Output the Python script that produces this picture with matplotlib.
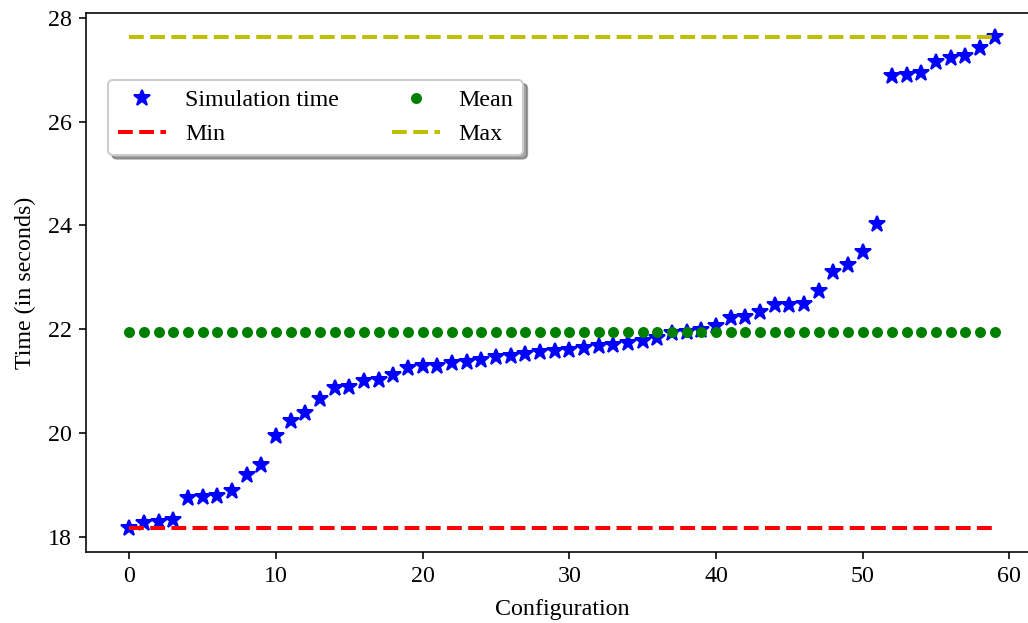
import numpy as np
import matplotlib
matplotlib.use("Agg")
import matplotlib.pyplot as plt

# Simulation time per configuration (sorted)
config = list(range(60))
sim_time = [
    18.17, 18.27, 18.29, 18.33, 18.75, 18.77, 18.79, 18.88, 19.19, 19.38,
    19.94, 20.23, 20.38, 20.65, 20.87, 20.88, 21.00, 21.02, 21.12, 21.25,
    21.29, 21.29, 21.35, 21.37, 21.40, 21.46, 21.48, 21.52, 21.56, 21.58,
    21.60, 21.63, 21.67, 21.69, 21.73, 21.77, 21.83, 21.92, 21.94, 21.98,
    22.06, 22.21, 22.23, 22.33, 22.46, 22.46, 22.48, 22.73, 23.10, 23.23,
    23.48, 24.02, 26.88, 26.90, 26.94, 27.15, 27.23, 27.27, 27.42, 27.62,
]

plt.rcParams['font.family'] = ['Liberation Serif', 'DejaVu Serif']
plt.rcParams['font.size'] = 12

t_min = min(sim_time)
t_max = max(sim_time)
t_mean = np.mean(sim_time)

fig = plt.figure(figsize=(1028 / 144, 623 / 144), dpi=144)
ax = fig.add_axes([0.0837, 0.1132, 0.926, 0.866])

ax.plot(config, sim_time, 'b*', markersize=8.5, label='Simulation time')
ax.plot(config, [t_min] * len(config), 'r--', lw=2, label='Min')
ax.plot(config, [t_mean] * len(config), 'go', markersize=4.5, label='Mean')
ax.plot(config, [t_max] * len(config), 'y--', lw=2, label='Max')

# label sits right at the bottom edge, as in the reference
ax.set_xlabel('Configuration', labelpad=6)
ax.set_ylabel('Time (in seconds)', labelpad=6)
ax.set_xticks([0, 10, 20, 30, 40, 50, 60])
ax.set_yticks([18, 20, 22, 24, 26, 28])

# legend order: Simulation time, Min | Mean, Max
ax.legend(ncol=2, shadow=True, loc='upper left', columnspacing=2.2,
          bbox_to_anchor=(0.0231, 0.876), borderaxespad=0)

fig.savefig('out.png', dpi=144)
